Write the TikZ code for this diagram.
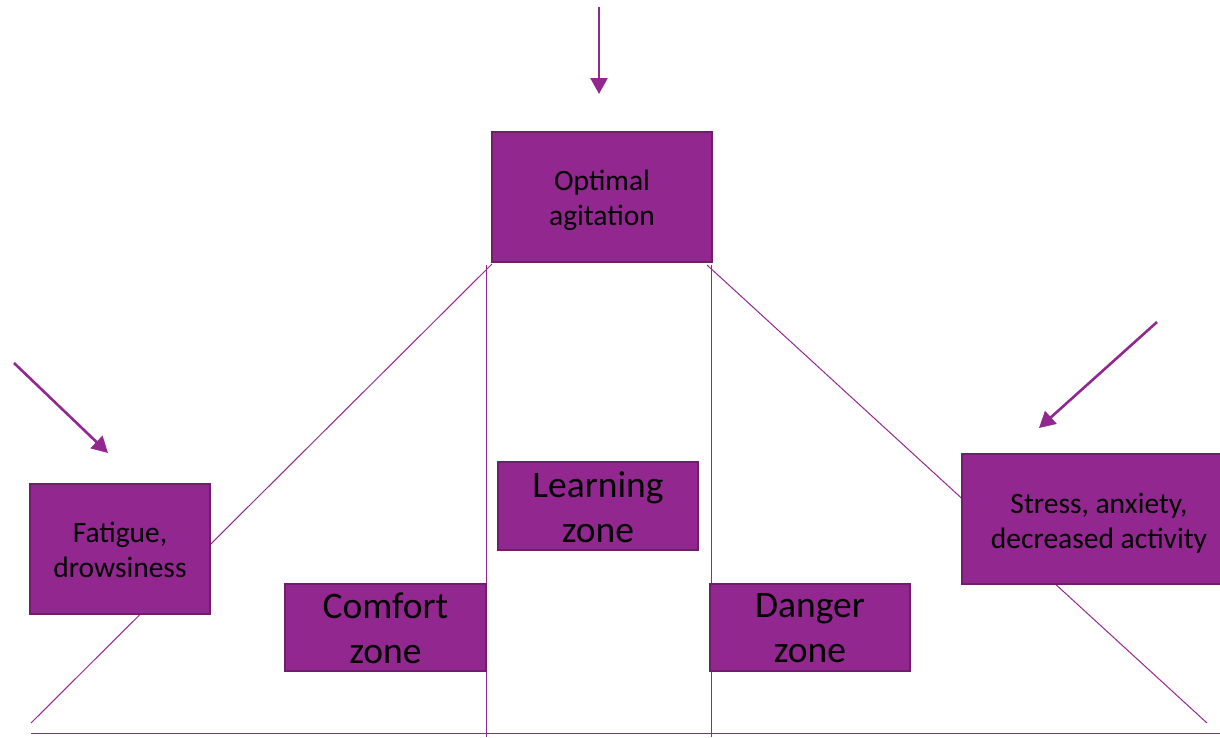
\documentclass[tikz,border=0pt]{standalone}
\usepackage{fontspec}
\setmainfont{Carlito}
\usetikzlibrary{arrows.meta}
\definecolor{plum}{RGB}{146,39,143}
\definecolor{plumdark}{RGB}{112,30,108}
\tikzset{
  zonebox/.style={draw=plumdark, line width=1.6pt, fill=plum, inner sep=0pt},
  boxtext/.style={inner sep=0pt, text=black, align=center},
  smalltext/.style={boxtext, font=\fontsize{29.5}{35}\selectfont},
  bigtext/.style={boxtext, font=\fontsize{37.5}{45}\selectfont},
  guide/.style={draw=plum, line width=1pt},
  pointer/.style={draw=plum, line width=2.6pt, -{Triangle[length=16pt,width=17pt]}}
}
\begin{document}
\begin{tikzpicture}[x=1pt,y=-1pt]
\useasboundingbox (0,0) rectangle (1220,737);

% curve end points and zone boundaries
\coordinate (leftfoot) at (31,723);
\coordinate (rightfoot) at (1207,723);
\coordinate (peakleft) at (492,264);
\coordinate (peakright) at (707,265);
\coordinate (zlTop) at (486,265);
\coordinate (zlBot) at (486,737);
\coordinate (zrTop) at (711,265);
\coordinate (zrBot) at (711,737);
\coordinate (axisL) at (31,733);
\coordinate (axisR) at (1220,733);

% arrow end points
\coordinate (topS) at (599,7);
\coordinate (topE) at (599,94);
\coordinate (leftS) at (14,363);
\coordinate (leftE) at (108,453);
\coordinate (rightS) at (1157,322);
\coordinate (rightE) at (1039,428);

% inverted-U curve, zone dividers and axis
\draw[guide] (leftfoot) -- (peakleft);
\draw[guide] (peakright) -- (rightfoot);
\draw[guide] (zlTop) -- (zlBot);
\draw[guide] (zrTop) -- (zrBot);
\draw[guide] (axisL) -- (axisR);

% pointers
\draw[pointer] (topS) -- (topE);
\draw[pointer] (leftS) -- (leftE);
\draw[pointer] (rightS) -- (rightE);

% boxes
\node[zonebox, minimum width=220pt, minimum height=130pt] (optimal) at (602,197) {};
\node[zonebox, minimum width=180pt, minimum height=130pt] (fatigue) at (120,549) {};
\node[zonebox, minimum width=274pt, minimum height=130pt] (stress) at (1099,519) {};
\node[zonebox, minimum width=200pt, minimum height=88pt] (learning) at (598,506) {};
\node[zonebox, minimum width=201pt, minimum height=87pt] (comfort) at (385.5,627.5) {};
\node[zonebox, minimum width=200pt, minimum height=87pt] (danger) at (810,627.5) {};

% box captions
\node[smalltext] (optimaltxt) at ([yshift=-3pt]optimal.center) {Optimal\\agitation};
\node[smalltext] (fatiguetxt) at ([yshift=-1pt]fatigue.center) {Fatigue,\\drowsiness};
\node[smalltext] (stresstxt) at ([yshift=-4pt]stress.center) {Stress, anxiety,\\decreased activity};
\node[bigtext] (learningtxt) at ([yshift=-1pt]learning.center) {Learning\\zone};
\node[bigtext] (comforttxt) at ([yshift=-1pt]comfort.center) {Comfort\\zone};
\node[bigtext] (dangertxt) at ([yshift=-1pt]danger.center) {Danger\\zone};
\end{tikzpicture}
\end{document}
